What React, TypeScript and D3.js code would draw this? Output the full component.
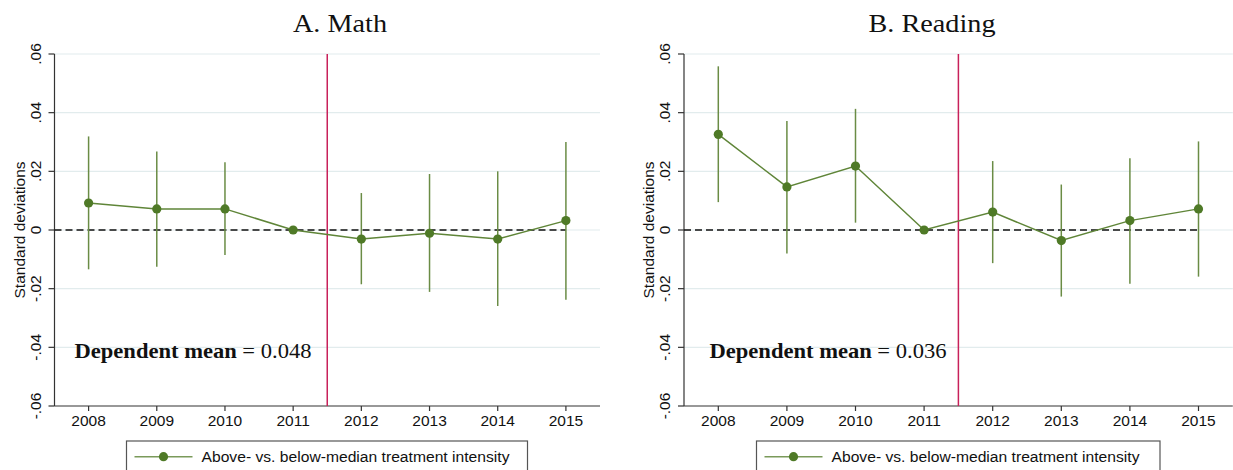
import React from "react";
import * as d3 from "d3";

const years = [2008, 2009, 2010, 2011, 2012, 2013, 2014, 2015];
const yTicks = [-0.06, -0.04, -0.02, 0, 0.02, 0.04, 0.06];
const yTickLabels = ["-.06", "-.04", "-.02", "0", ".02", ".04", ".06"];

const mathEst = [0.0092, 0.0072, 0.0072, 0, -0.0031, -0.0011, -0.0031, 0.0032];
const mathLo = [-0.0134, -0.0125, -0.0085, 0, -0.0185, -0.0211, -0.0259, -0.0238];
const mathHi = [0.0319, 0.0268, 0.0231, 0, 0.0126, 0.0191, 0.02, 0.03];

const readEst = [0.0326, 0.0147, 0.0218, 0, 0.0061, -0.0036, 0.0032, 0.0072];
const readLo = [0.0095, -0.008, 0.0025, 0, -0.0113, -0.0227, -0.0183, -0.0159];
const readHi = [0.0558, 0.0372, 0.0413, 0, 0.0235, 0.0155, 0.0245, 0.0302];

const titles = ["A. Math", "B. Reading"];
const depMeans = ["0.048", "0.036"];
const legendLabel = "Above- vs. below-median treatment intensity";
const yAxisTitle = "Standard deviations";
const treatmentBreak = 2011.5;

const GREEN_LINE = "#5f8538";
const GREEN_CI = "#6a8c45";
const GREEN_MARK = "#4f7a27";
const RED = "#c8215a";
const GRID = "#e2eced";
const AXIS = "#333333";

type PanelProps = {
  x0: number;
  x1: number;
  est: number[];
  lo: number[];
  hi: number[];
  title: string;
  titleX: number;
  titleLen: number;
  dep: string;
  depX: number;
  legendX: number;
  legendW: number;
};

function Panel(p: PanelProps) {
  const yTop = 54;
  const yBot = 406;
  const x = d3.scaleLinear().domain([2007.5, 2015.5]).range([p.x0, p.x1]);
  const y = d3.scaleLinear().domain([-0.06, 0.06]).range([yBot, yTop]);
  const sans = "'Liberation Sans', Arial, sans-serif";
  const serif = "'Liberation Serif', 'Times New Roman', serif";
  const line = d3
    .line<number>()
    .x((_, i) => x(years[i]))
    .y((d) => y(d));

  const legY = 456.7;
  return (
    <g>
      <text
        x={p.titleX}
        y={32}
        textAnchor="middle"
        fontFamily={serif}
        fontSize={25}
        fill="#111"
        textLength={p.titleLen}
        lengthAdjust="spacingAndGlyphs"
      >
        {p.title}
      </text>
      {yTicks.map((t) =>
        t === -0.06 ? null : (
          <line key={"g" + t} x1={p.x0} x2={p.x1} y1={y(t)} y2={y(t)} stroke={GRID} strokeWidth={1.2} />
        )
      )}
      <line x1={p.x0} x2={p.x0} y1={y(0.06)} y2={y(-0.06)} stroke={AXIS} strokeWidth={1.2} />
      {yTicks.map((t, i) => (
        <g key={"yt" + t}>
          <line x1={p.x0 - 6} x2={p.x0} y1={y(t)} y2={y(t)} stroke={AXIS} strokeWidth={1.2} />
          <text
            transform={`translate(${p.x0 - 14},${y(t)}) rotate(-90)`}
            textAnchor="middle"
            fontFamily={sans}
            fontSize={15.5}
            fill="#111"
          >
            {yTickLabels[i]}
          </text>
        </g>
      ))}
      <text
        transform={`translate(${p.x0 - 30},${y(0)}) rotate(-90)`}
        textAnchor="middle"
        fontFamily={sans}
        fontSize={15.5}
        fill="#111"
      >
        {yAxisTitle}
      </text>
      <line x1={p.x0} x2={p.x1} y1={yBot} y2={yBot} stroke={AXIS} strokeWidth={1.2} />
      {years.map((yr) => (
        <g key={"xt" + yr}>
          <line x1={x(yr)} x2={x(yr)} y1={yBot} y2={yBot + 5} stroke={AXIS} strokeWidth={1.2} />
          <text x={x(yr)} y={426} textAnchor="middle" fontFamily={sans} fontSize={15.5} fill="#111">
            {yr}
          </text>
        </g>
      ))}
      <line
        x1={p.x0}
        x2={x(2015)}
        y1={y(0)}
        y2={y(0)}
        stroke="#111"
        strokeWidth={1.5}
        strokeDasharray="7,4"
      />
      <line x1={x(treatmentBreak)} x2={x(treatmentBreak)} y1={y(0.06)} y2={y(-0.06)} stroke={RED} strokeWidth={1.5} />
      {years.map((yr, i) =>
        p.lo[i] === p.hi[i] ? null : (
          <line key={"ci" + yr} x1={x(yr)} x2={x(yr)} y1={y(p.lo[i])} y2={y(p.hi[i])} stroke={GREEN_CI} strokeWidth={1.5} />
        )
      )}
      <path d={line(p.est) || ""} fill="none" stroke={GREEN_LINE} strokeWidth={1.5} />
      {years.map((yr, i) => (
        <circle key={"pt" + yr} cx={x(yr)} cy={y(p.est[i])} r={4.6} fill={GREEN_MARK} />
      ))}
      <text x={p.depX} y={358} fontFamily={serif} fontSize={22} fill="#111" textLength={237} lengthAdjust="spacingAndGlyphs">
        <tspan fontWeight="bold">Dependent mean</tspan>
        <tspan> = {p.dep}</tspan>
      </text>
      <rect x={p.legendX} y={441} width={p.legendW} height={32} fill="white" stroke="#555" strokeWidth={1.2} />
      <line x1={p.legendX + 8} x2={p.legendX + 66} y1={legY} y2={legY} stroke="#7a9a5a" strokeWidth={1.5} />
      <circle cx={p.legendX + 37} cy={legY} r={4.6} fill={GREEN_MARK} />
      <text
        x={p.legendX + 75}
        y={461.5}
        fontFamily={sans}
        fontSize={15.5}
        fill="#111"
        textLength={308}
        lengthAdjust="spacingAndGlyphs"
      >
        {legendLabel}
      </text>
    </g>
  );
}

export default function App() {
  return (
    <svg
      width={1233}
      height={470}
      style={{ position: "absolute", left: 0, top: 0, background: "white" }}
    >
      <rect x={0} y={0} width={1233} height={470} fill="white" />
      <Panel
        x0={54.5}
        x1={600}
        est={mathEst}
        lo={mathLo}
        hi={mathHi}
        title={titles[0]}
        titleX={340}
        titleLen={94}
        dep={depMeans[0]}
        depX={74.5}
        legendX={126.5}
        legendW={401}
      />
      <Panel
        x0={684}
        x1={1232.8}
        est={readEst}
        lo={readLo}
        hi={readHi}
        title={titles[1]}
        titleX={932}
        titleLen={127}
        dep={depMeans[1]}
        depX={709.5}
        legendX={756.5}
        legendW={403.5}
      />
    </svg>
  );
}
